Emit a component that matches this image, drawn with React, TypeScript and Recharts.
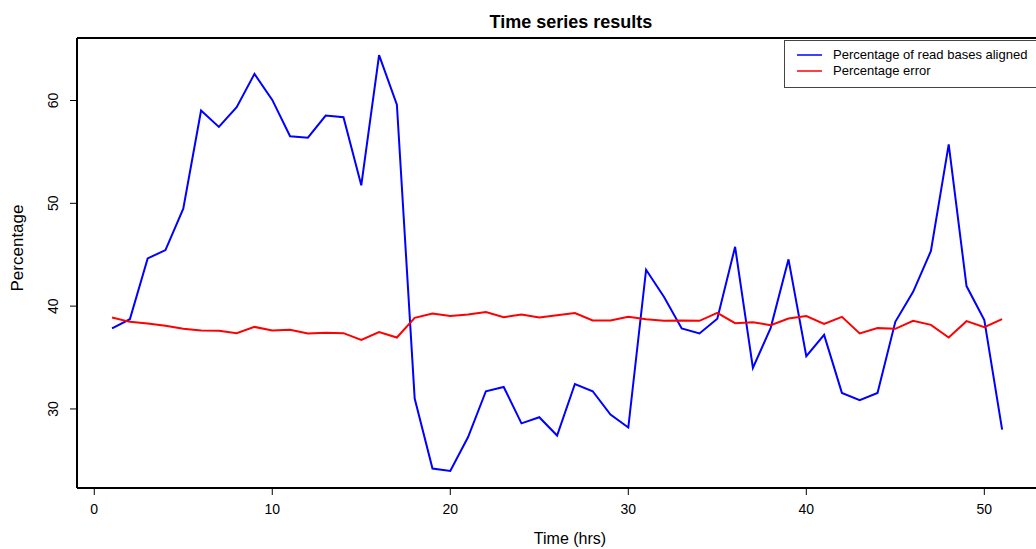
import { LineChart, Line, XAxis, YAxis } from 'recharts'

const hours = [
  1, 2, 3, 4, 5, 6, 7, 8, 9, 10, 11, 12, 13, 14, 15, 16, 17, 18, 19, 20, 21, 22, 23, 24, 25, 26,
  27, 28, 29, 30, 31, 32, 33, 34, 35, 36, 37, 38, 39, 40, 41, 42, 43, 44, 45, 46, 47, 48, 49, 50, 51,
]

// percentage of read bases aligned
const aligned = [
  37.83, 38.73, 44.64, 45.45, 49.47, 59.02, 57.43, 59.35, 62.59, 60.06,
  56.52, 56.39, 58.53, 58.37, 51.75, 64.41, 59.6, 31.01, 24.2, 23.96,
  27.27, 31.72, 32.14, 28.6, 29.19, 27.41, 32.43, 31.72, 29.45, 28.19,
  43.54, 40.91, 37.83, 37.34, 38.77, 45.77, 33.99, 37.89, 44.55, 35.13,
  37.2, 31.56, 30.85, 31.56, 38.47, 41.39, 45.36, 55.74, 41.95, 38.64, 27.99,
]

// percentage error
const errorPct = [
  38.9, 38.47, 38.31, 38.09, 37.79, 37.63, 37.6, 37.37, 37.98, 37.63,
  37.7, 37.34, 37.4, 37.37, 36.72, 37.47, 36.95, 38.86, 39.29, 39.03,
  39.19, 39.42, 38.93, 39.19, 38.9, 39.12, 39.32, 38.6, 38.6, 38.96,
  38.73, 38.57, 38.6, 38.57, 39.35, 38.34, 38.44, 38.15, 38.8, 39.03,
  38.28, 38.96, 37.34, 37.86, 37.79, 38.57, 38.18, 36.95, 38.54, 37.96, 38.73,
]

const xTicks = [0, 10, 20, 30, 40, 50]
const yTicks = [30, 40, 50, 60]

const seriesNames = ['Percentage of read bases aligned', 'Percentage error']
const seriesColors = ['#0000ff', '#ff0000']

const data = hours.map((h, i) => ({ hour: h, aligned: aligned[i], error: errorPct[i] }))

const font = '"Liberation Sans", Arial, Helvetica, sans-serif'

function YTick(props: any) {
  const { y, payload } = props
  return (
    <text
      x={58}
      y={y}
      transform={`rotate(-90, 58, ${y})`}
      textAnchor="middle"
      fontSize={14}
      fill="#000"
      fontFamily={font}
    >
      {payload.value}
    </text>
  )
}

export default function App() {
  return (
    <div
      style={{
        position: 'absolute',
        left: 0,
        top: 0,
        width: 1036,
        height: 549,
        overflow: 'hidden',
        background: '#fff',
        fontFamily: font,
      }}
    >
      <LineChart width={1100} height={549} data={data} margin={{ top: 37, right: 0, bottom: 0, left: 17 }}>
        <XAxis
          dataKey="hour"
          type="number"
          domain={[-0.97, 54.42]}
          ticks={xTicks}
          allowDataOverflow
          height={61}
          tickSize={7}
          tickMargin={9}
          tick={{ fontSize: 14, fill: '#000', fontFamily: font }}
          axisLine={{ stroke: '#000', strokeWidth: 2 }}
          tickLine={{ stroke: '#000' }}
        />
        <XAxis
          xAxisId="top"
          orientation="top"
          dataKey="hour"
          type="number"
          domain={[-0.97, 54.42]}
          height={1}
          tick={false}
          tickLine={false}
          axisLine={{ stroke: '#000', strokeWidth: 2 }}
        />
        <YAxis
          type="number"
          domain={[22.31, 66.08]}
          ticks={yTicks}
          allowDataOverflow
          width={60}
          tickSize={7}
          tick={<YTick />}
          axisLine={{ stroke: '#000', strokeWidth: 2 }}
          tickLine={{ stroke: '#000' }}
        />
        <YAxis
          yAxisId="right"
          orientation="right"
          width={37}
          tick={false}
          tickLine={false}
          axisLine={{ stroke: '#000', strokeWidth: 2 }}
        />
        <Line
          type="linear"
          dataKey="aligned"
          xAxisId={0}
          stroke={seriesColors[0]}
          strokeWidth={2}
          dot={false}
          isAnimationActive={false}
        />
        <Line
          type="linear"
          dataKey="error"
          xAxisId={0}
          stroke={seriesColors[1]}
          strokeWidth={2}
          dot={false}
          isAnimationActive={false}
        />
      </LineChart>

      {/* title */}
      <div
        style={{
          position: 'absolute',
          left: 421,
          top: 13,
          width: 300,
          textAlign: 'center',
          fontSize: 18,
          lineHeight: '18px',
          fontWeight: 'bold',
        }}
      >
        Time series results
      </div>

      {/* x label */}
      <div
        style={{
          position: 'absolute',
          left: 470,
          top: 531,
          width: 200,
          textAlign: 'center',
          fontSize: 16,
          lineHeight: '16px',
        }}
      >
        Time (hrs)
      </div>

      {/* y label */}
      <div
        style={{
          position: 'absolute',
          left: 18 - 70,
          top: 248 - 9,
          width: 140,
          height: 17,
          textAlign: 'center',
          fontSize: 17,
          lineHeight: '17px',
          transform: 'rotate(-90deg)',
          transformOrigin: '70px 9px',
        }}
      >
        Percentage
      </div>

      {/* legend */}
      <div
        style={{
          position: 'absolute',
          left: 784,
          top: 40,
          width: 320,
          height: 46,
          border: '1px solid #444',
          background: '#fff',
        }}
      >
        {seriesNames.map((name, i) => (
          <div
            key={name}
            style={{ position: 'absolute', left: 0, top: 7 + i * 16.4, height: 14, width: 320 }}
          >
            <svg width={30} height={14} style={{ position: 'absolute', left: 10, top: 0 }}>
              <line x1={2} x2={27} y1={7} y2={7} stroke={seriesColors[i]} strokeWidth={1.5} />
            </svg>
            <div
              style={{
                position: 'absolute',
                left: 48,
                top: 0,
                fontSize: 13,
                lineHeight: '14px',
                whiteSpace: 'nowrap',
              }}
            >
              {name}
            </div>
          </div>
        ))}
      </div>
    </div>
  )
}
